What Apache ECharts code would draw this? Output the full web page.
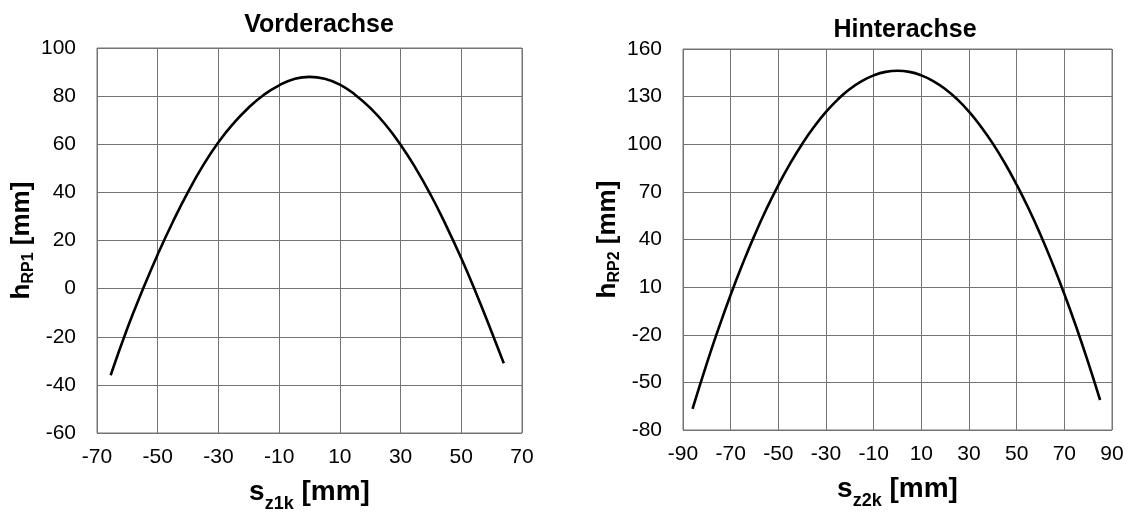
<!DOCTYPE html>
<html>
<head>
<meta charset="utf-8">
<script src="https://cdn.jsdelivr.net/npm/echarts@6/dist/echarts.min.js"></script>
<style>
  html, body { margin: 0; padding: 0; background: #fff; }
  #chart { width: 1133px; height: 513px; }
</style>
</head>
<body>
<div id="chart"></div>
<script>
  // Vorderachse (front axle)
  const frontX = [-65.5, -60, -55, -50, -45, -40, -35, -30, -25, -20, -15, -10, -5, 0, 5, 10, 15, 20, 25, 30, 35, 40, 45, 50, 55, 60, 64];
  const frontY = [-36, -16.5, -0.6, 14.2, 27.8, 40.2, 51.3, 60.8, 68.7, 75.3, 80.6, 84.5, 87.1, 88, 87.2, 84.8, 80.6, 75.1, 68.2, 59.8, 50, 38.8, 26.2, 12.6, -2.2, -18, -31];
  // Hinterachse (rear axle)
  const rearX = [-86, -80, -75, -70, -65, -60, -55, -50, -45, -40, -35, -30, -25, -20, -15, -10, -5, 0, 5, 10, 15, 20, 25, 30, 35, 40, 45, 50, 55, 60, 65, 70, 75, 80, 85];
  const rearY = [-66.7, -38, -15.7, 5.2, 24.6, 42.6, 59.2, 74.3, 88, 100.2, 111, 120.4, 128.3, 134.8, 139.8, 143.4, 145.6, 146.3, 145.6, 143.4, 139.8, 134.8, 128.4, 120.5, 111.1, 100.4, 88.2, 74.5, 59.5, 43, 25, 5.7, -15.1, -37.4, -61.1];

  // axis ranges (shift so that min is a multiple of the interval)
  const frontXRange = [-70, 70], frontYRange = [-60, 100];
  const rearXRange = [-90, 90], rearYRange = [-80, 160];
  const shiftFX = 70, shiftRX = 90, shiftRY = 80;

  const font = 'Liberation Sans, Arial, sans-serif';
  const gridColor = '#747474';

  // x names: bigger, subscript dropped lower
  const richX = {
    a: { fontSize: 28, fontWeight: 'bold', color: '#000', fontFamily: font, padding: [0, 0, 7, 0] },
    b: { fontSize: 18, fontWeight: 'bold', color: '#000', fontFamily: font, verticalAlign: 'bottom', lineHeight: 18 }
  };
  // y names
  const richY = {
    a: { fontSize: 26, fontWeight: 'bold', color: '#000', fontFamily: font, padding: [0, 0, 2, 0] },
    b: { fontSize: 16, fontWeight: 'bold', color: '#000', fontFamily: font, verticalAlign: 'bottom', lineHeight: 16 }
  };

  function valueAxis(idx, min, max, interval, shift, name, gap, isX) {
    return {
      type: 'value',
      gridIndex: idx,
      min: min + shift,
      max: max + shift,
      interval: interval,
      name: name,
      nameLocation: 'middle',
      nameGap: gap,
      nameTextStyle: { rich: isX ? richX : richY },
      axisLine: { show: false },
      axisTick: { show: false },
      axisLabel: {
        color: '#000',
        fontSize: 21,
        fontFamily: font,
        margin: isX ? 14 : 21,
        formatter: v => String(Math.round(v - shift))
      },
      splitLine: { show: true, lineStyle: { color: gridColor, width: 1 } }
    };
  }

  const chart = echarts.init(document.getElementById('chart'));
  chart.setOption({
    animation: false,
    backgroundColor: '#fff',
    title: [
      { text: 'Vorderachse', left: 314, top: 8, textAlign: 'center',
        textStyle: { fontSize: 25, fontWeight: 'bold', color: '#000', fontFamily: font } },
      { text: 'Hinterachse', left: 900, top: 13, textAlign: 'center',
        textStyle: { fontSize: 25, fontWeight: 'bold', color: '#000', fontFamily: font } }
    ],
    grid: [
      { left: 97, top: 48, width: 425, height: 385, show: true, borderColor: gridColor, borderWidth: 1, outerBoundsMode: 'none' },
      { left: 683, top: 49, width: 429, height: 381, show: true, borderColor: gridColor, borderWidth: 1, outerBoundsMode: 'none' }
    ],
    xAxis: [
      valueAxis(0, frontXRange[0], frontXRange[1], 20, shiftFX, '{a|s}{b|z1k}{a| [mm]}', 45, true),
      valueAxis(1, rearXRange[0], rearXRange[1], 20, shiftRX, '{a|s}{b|z2k}{a| [mm]}', 45, true)
    ],
    yAxis: [
      valueAxis(0, frontYRange[0], frontYRange[1], 20, 0, '{a|h}{b|RP1}{a| [mm]}', 59, false),
      valueAxis(1, rearYRange[0], rearYRange[1], 30, shiftRY, '{a|h}{b|RP2}{a| [mm]}', 59, false)
    ],
    series: [
      {
        type: 'line', xAxisIndex: 0, yAxisIndex: 0, smooth: true, showSymbol: false,
        lineStyle: { color: '#000', width: 2.6 },
        data: frontX.map((x, i) => [x + shiftFX, frontY[i]])
      },
      {
        type: 'line', xAxisIndex: 1, yAxisIndex: 1, smooth: true, showSymbol: false,
        lineStyle: { color: '#000', width: 2.6 },
        data: rearX.map((x, i) => [x + shiftRX, rearY[i] + shiftRY])
      }
    ]
  });
</script>
</body>
</html>
